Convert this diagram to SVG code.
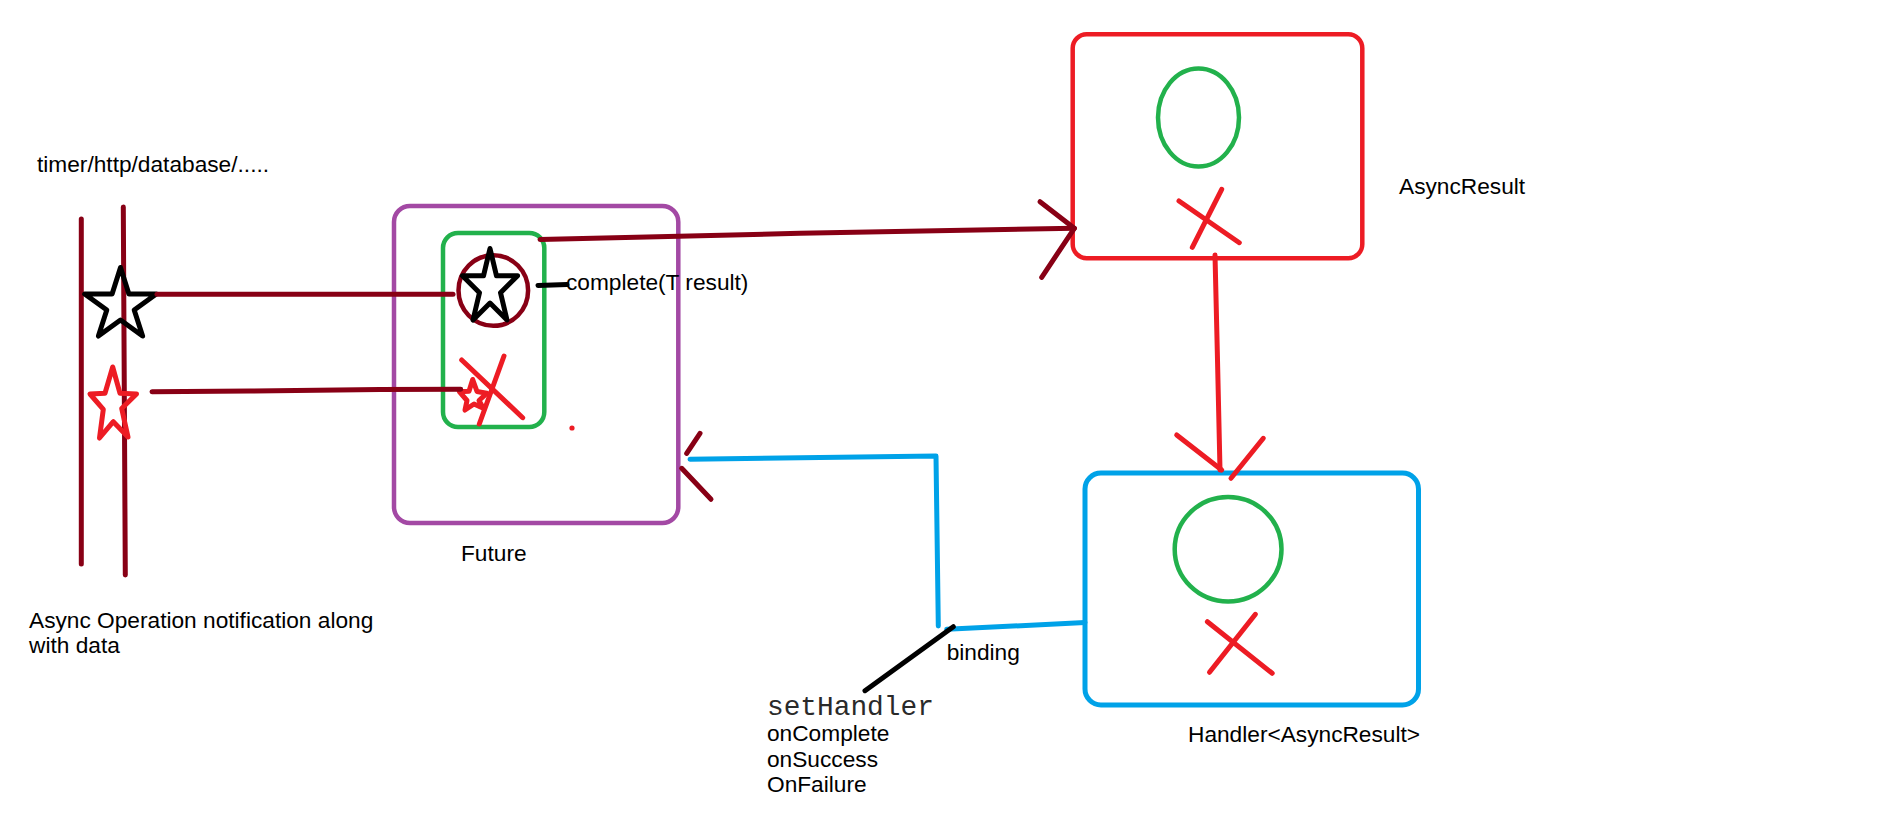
<svg xmlns="http://www.w3.org/2000/svg" width="1898" height="834" viewBox="0 0 1898 834">
<style>
  .t { font-family: "Liberation Sans", Arial, sans-serif; font-size: 22.7px; fill: #000; }
  .m { font-family: "Liberation Mono", "Courier New", monospace; font-size: 27.8px; fill: #2a2a2a; }
  .dr { stroke: #880015; stroke-width: 5; fill: none; stroke-linecap: round; stroke-linejoin: round; }
  .rd { stroke: #ED1C24; stroke-width: 5; fill: none; stroke-linecap: round; stroke-linejoin: round; }
  .gr { stroke: #22B14C; stroke-width: 4.5; fill: none; }
  .bl { stroke: #00A2E8; stroke-width: 5; fill: none; stroke-linecap: round; stroke-linejoin: round; }
  .bk { stroke: #000; stroke-width: 5; fill: none; stroke-linecap: round; stroke-linejoin: round; }
  .pu { stroke: #A349A4; stroke-width: 4.5; fill: none; }
</style>
<rect width="1898" height="834" fill="#fff"/>

<g id="source">
  <line class="dr" x1="81.3" y1="219" x2="81.3" y2="564"/>
  <polyline class="dr" points="123.3,207 123.8,300 125.3,575"/>
  <polygon class="bk" stroke-width="4.7" points="120.5,267.5 128.9,294 156.3,294 134.2,310 142.6,336 120.5,320 98.4,336 106.8,310 84.7,294 112.1,294"/>
  <polygon class="rd" stroke-width="4.5" points="112.7,367 120,393.3 136.5,394 121.7,408.5 128,437 113.3,421.7 99.5,438 103.3,409.3 90,394 105,393.3"/>
  <text class="t" x="37" y="172">timer/http/database/.....</text>
  <text class="t" x="29" y="628">Async Operation notification along</text>
  <text class="t" x="29" y="653">with data</text>
</g>

<g id="future">
  <rect class="pu" x="394" y="206" width="284.3" height="317" rx="16"/>
  <rect class="gr" x="443" y="233" width="101.3" height="194" rx="15"/>
  <ellipse cx="493.3" cy="290.5" rx="34.8" ry="35.3" fill="none" stroke="#880015" stroke-width="4.5"/>
  <polygon class="bk" stroke-width="4.7" points="490,248.5 496.5,275.8 517.6,275.8 500.5,292.7 507,320 490,303.1 473,320 479.5,292.7 462.4,275.8 483.5,275.8"/>
  <polygon class="rd" stroke-width="3.5" points="472.7,379.5 477,391.5 486.7,393.3 479,400.5 483.3,408.3 474,404 465,410 467,400.5 459.3,391.7 469,391.3"/>
  <line class="rd" x1="461.7" y1="360" x2="522.7" y2="417.7"/>
  <line class="rd" x1="504" y1="356" x2="479.3" y2="424"/>
  <circle cx="572" cy="428" r="2.6" fill="#ED1C24"/>
  <line class="bk" x1="538" y1="285.5" x2="567" y2="284.5"/>
  <text class="t" x="566" y="290">complete(T result)</text>
  <text class="t" x="461" y="561">Future</text>
</g>

<g id="asyncresult">
  <rect x="1072.7" y="34.3" width="289.6" height="224" rx="14" fill="none" stroke="#ED1C24" stroke-width="4.5"/>
  <ellipse class="gr" cx="1198.5" cy="117.5" rx="40.5" ry="49"/>
  <line class="rd" x1="1179" y1="201" x2="1239.3" y2="242.7"/>
  <line class="rd" x1="1221.7" y1="189.3" x2="1192.3" y2="247.3"/>
  <text class="t" x="1399" y="194">AsyncResult</text>
</g>

<g id="handler">
  <rect x="1085" y="473" width="333.5" height="232" rx="16" fill="none" stroke="#00A2E8" stroke-width="5"/>
  <ellipse class="gr" cx="1228.1" cy="549.2" rx="53.4" ry="52.2"/>
  <line class="rd" x1="1207.4" y1="621.7" x2="1272.2" y2="673.3"/>
  <line class="rd" x1="1255.4" y1="614.3" x2="1209.5" y2="672.3"/>
  <text class="t" x="1188" y="742">Handler&lt;AsyncResult&gt;</text>
</g>

<g id="connectors">
  <line class="dr" x1="157" y1="294.3" x2="453" y2="294.3"/>
  <polyline class="dr" points="152,391.7 250,391 380,389.5 460.7,389.3"/>
  <polyline class="dr" points="540,239.5 800,233.3 1074.3,228.3"/>
  <line class="dr" x1="1040" y1="201.7" x2="1074.3" y2="228.3"/>
  <line class="dr" x1="1074.3" y1="228.3" x2="1041.7" y2="277.3"/>
  <polyline class="rd" points="1215,255 1217.5,360 1220,470"/>
  <line class="rd" x1="1176.7" y1="435" x2="1221.7" y2="470"/>
  <line class="rd" x1="1263.3" y1="438.3" x2="1231" y2="478.3"/>
  <polyline class="bl" points="690,459.3 936,456 938.3,626"/>
  <line class="bl" x1="946.7" y1="629.3" x2="1085" y2="622.5"/>
  <line class="dr" x1="700" y1="433.3" x2="686.7" y2="453.3"/>
  <line class="dr" x1="681.7" y1="468.3" x2="711" y2="499.3"/>
  <line class="bk" x1="953.3" y1="626.7" x2="865" y2="690.7"/>
  <text class="t" x="946.7" y="660">binding</text>
  <text class="m" x="767" y="715">setHandler</text>
  <text class="t" x="767" y="741">onComplete</text>
  <text class="t" x="767" y="767">onSuccess</text>
  <text class="t" x="767" y="792">OnFailure</text>
</g>
</svg>
